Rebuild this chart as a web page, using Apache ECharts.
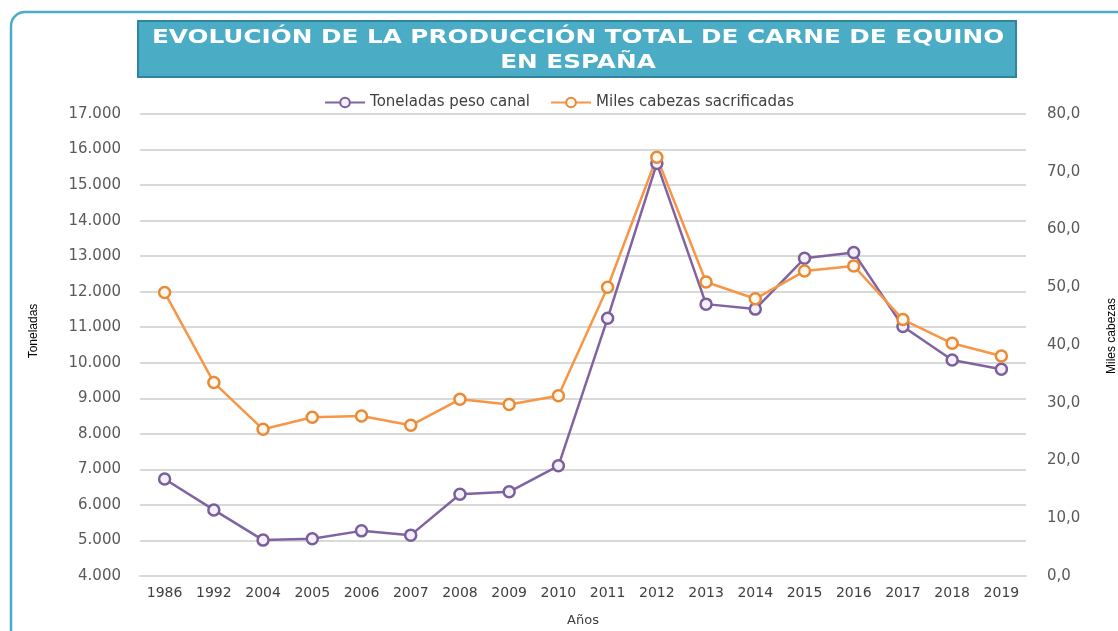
<!DOCTYPE html>
<html>
<head>
<meta charset="utf-8">
<title>Evolución de la producción total de carne de equino</title>
<script src="https://cdn.jsdelivr.net/npm/echarts@6/dist/echarts.min.js"></script>
<style>
    html, body {margin: 0; padding: 0; background: #fff;}
    #chart {width: 1118px; height: 631px;}
</style>
</head>
<body>
<div id="chart"></div>
<script>
var years = ['1986', '1992', '2004', '2005', '2006', '2007', '2008', '2009', '2010',
    '2011', '2012', '2013', '2014', '2015', '2016', '2017', '2018', '2019'];

// toneladas peso canal (eje izquierdo)
var toneladas = [6730, 5860, 5010, 5050, 5270, 5150, 6300, 6370, 7100,
    11250, 15610, 11650, 11510, 12940, 13100, 11020, 10080, 9820];

// miles de cabezas sacrificadas (eje derecho)
var milesCabezas = [49.1, 33.5, 25.4, 27.5, 27.7, 26.1, 30.6, 29.7, 31.2,
    50.0, 72.5, 50.9, 48.0, 52.8, 53.7, 44.4, 40.3, 38.1];

var serieNames = ['Toneladas peso canal', 'Miles cabezas sacrificadas'];

var chart = echarts.init(document.getElementById('chart'));

function fmtMiles(v) {
    return String(v).replace(/\B(?=(\d{3})+(?!\d))/g, '.');
}

var option = {
    backgroundColor: '#fff',
    animation: false,
    graphic: [
        {
            type: 'rect',
            shape: {x: 11, y: 12, width: 1130, height: 640, r: 14},
            style: {fill: 'none', stroke: '#4bacc6', lineWidth: 2.5}
        },
        {
            type: 'rect',
            shape: {x: 138, y: 21, width: 878, height: 56},
            style: {fill: '#4bacc6', stroke: '#31849b', lineWidth: 2}
        },
        {
            // el título original está algo estirado en horizontal
            type: 'text',
            x: 578,
            y: 51,
            scaleX: 1.3,
            style: {
                text: 'EVOLUCIÓN DE LA PRODUCCIÓN TOTAL DE CARNE DE EQUINO\nEN ESPAÑA',
                fill: '#fff',
                font: 'bold 19px "DejaVu Sans"',
                align: 'center',
                verticalAlign: 'middle',
                lineHeight: 25
            }
        }
    ],
    legend: {
        top: 90,
        left: 'center',
        itemWidth: 40,
        itemHeight: 12,
        itemGap: 20,
        data: serieNames,
        textStyle: {color: '#404040', fontSize: 15, fontFamily: 'DejaVu Sans'}
    },
    grid: {left: 140, right: 92, top: 114, bottom: 55, containLabel: false, outerBoundsMode: 'none'},
    xAxis: [{
        type: 'category',
        data: years,
        boundaryGap: true,
        axisLine: {lineStyle: {color: '#d9d9d9', width: 2}},
        axisTick: {show: false},
        axisLabel: {color: '#404040', fontSize: 14, fontFamily: 'DejaVu Sans', margin: 10},
        name: 'Años',
        nameLocation: 'middle',
        nameGap: 38,
        nameTextStyle: {color: '#404040', fontSize: 13, fontFamily: 'DejaVu Sans'}
    }],
    yAxis: [
        {
            type: 'value',
            min: 4000,
            max: 17000,
            interval: 1000,
            axisLine: {show: false},
            axisTick: {show: false},
            axisLabel: {
                color: '#595959', fontSize: 15, fontFamily: 'DejaVu Sans', margin: 19,
                formatter: fmtMiles
            },
            splitLine: {lineStyle: {color: '#d9d9d9', width: 2}},
            name: 'Toneladas',
            nameLocation: 'middle',
            nameRotate: 90,
            nameGap: 100,
            nameTextStyle: {color: '#000', fontSize: 12, fontFamily: 'Liberation Sans', padding: [0, 0, 0, 28]}
        },
        {
            type: 'value',
            min: 0,
            max: 80,
            interval: 10,
            axisLine: {show: false},
            axisTick: {show: false},
            splitLine: {show: false},
            axisLabel: {
                color: '#595959', fontSize: 15, fontFamily: 'DejaVu Sans', margin: 21,
                formatter: function (v) { return v.toFixed(1).replace('.', ','); }
            },
            name: 'Miles cabezas',
            nameLocation: 'middle',
            nameRotate: 90,
            nameGap: 80,
            nameTextStyle: {color: '#000', fontSize: 12, fontFamily: 'Liberation Sans', padding: [0, 0, 0, 18]}
        }
    ],
    series: [
        {
            name: serieNames[0],
            type: 'line',
            yAxisIndex: 0,
            data: toneladas,
            symbol: 'circle',
            symbolSize: 11,
            color: '#8064a2',
            lineStyle: {color: '#8064a2', width: 2.5},
            itemStyle: {color: '#f4f0fa', borderColor: '#7a5f9c', borderWidth: 2.5}
        },
        {
            name: serieNames[1],
            type: 'line',
            yAxisIndex: 1,
            data: milesCabezas,
            symbol: 'circle',
            symbolSize: 11,
            color: '#f79646',
            lineStyle: {color: '#f79646', width: 2.5},
            itemStyle: {color: '#fff8ee', borderColor: '#e98a36', borderWidth: 2.5}
        }
    ]
};

chart.setOption(option);
</script>
</body>
</html>
